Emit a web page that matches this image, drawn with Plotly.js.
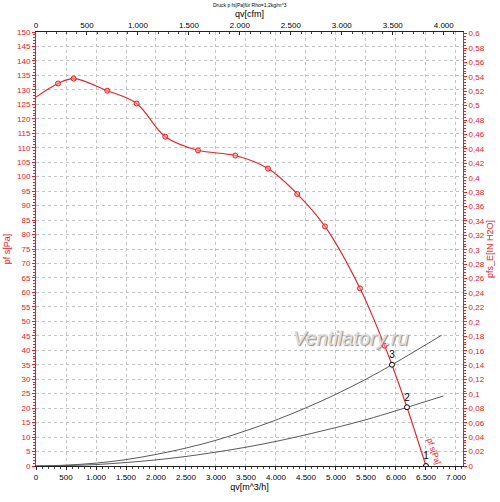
<!DOCTYPE html>
<html><head><meta charset="utf-8">
<script src="https://cdn.plot.ly/plotly-3.0.1.min.js"></script>
<style>html,body{margin:0;padding:0;background:#fff}#chart{width:500px;height:502px}</style>
</head><body><div id="chart"></div>
<script>
// Fan curve (qv in m^3/h, static pressure in Pa)
const fanQ = [0, 367, 627, 1188, 1677, 2155, 2700, 3322, 3867, 4355, 4817, 5400, 5810, 5933, 6183, 6500];
const fanP = [127.5, 132.2, 133.9, 129.7, 125.3, 113.8, 109.1, 107.3, 102.8, 94.0, 82.8, 61.4, 41.6, 35.0, 20.3, 0];
// measured points (red markers)
const markQ = [367, 627, 1188, 1677, 2155, 2700, 3322, 3867, 4355, 4817, 5400, 5810];
const markP = [132.2, 133.9, 129.7, 125.3, 113.8, 109.1, 107.3, 102.8, 94.0, 82.8, 61.4, 41.6];
// system curves
const sys3Q = [0, 500, 1000, 1500, 2000, 2500, 3000, 3500, 4000, 4500, 5000, 5500, 6000, 6760];
const sys3P = [0, 0.3, 1.0, 2.2, 4.0, 6.2, 8.9, 12.2, 15.9, 20.1, 24.8, 30.0, 35.8, 45.2];
const sys2Q = [0, 500, 1000, 1500, 2000, 2500, 3000, 3500, 4000, 4500, 5000, 5500, 6000, 6790];
const sys2P = [0, 0.15, 0.5, 1.2, 2.1, 3.3, 4.8, 6.5, 8.5, 10.8, 13.3, 16.0, 19.1, 24.2];
// operating points
const opQ = [6500, 6183, 5933];
const opP = [0, 20.3, 35.0];
const opLabels = ['1', '2', '3'];
// axis constants
const xMax = 7117;
const pMax = 150;
const M3H_PER_CFM = 1.699;
const PA_PER_INH2O = 249.089;
const xLabel = 'qv[m^3/h]';
const x2Label = 'qv[cfm]';
const yLabel = 'pf s[Pa]';
const y2Label = 'pfs_E[IN H2O]';
const chartTitle = 'Druck p fs[Pa]für Rho=1,2kg/m^3';
const curveLabel = 'pf s[Pa]';
const watermark = 'Ventilatory.ru';

const RED = 'rgb(228,32,36)';
const traces = [
  {x: sys3Q, y: sys3P, mode: 'lines', line: {color: '#5a5a5a', width: 1, shape: 'spline'}, hoverinfo: 'skip'},
  {x: sys2Q, y: sys2P, mode: 'lines', line: {color: '#5a5a5a', width: 1, shape: 'spline'}, hoverinfo: 'skip'},
  {x: fanQ, y: fanP, mode: 'lines', line: {color: RED, width: 1.1, shape: 'spline', smoothing: 1}},
  {x: markQ, y: markP, mode: 'markers', marker: {symbol: 'circle', size: 5, color: 'rgba(245,150,150,0.6)', line: {color: RED, width: 1}}},
  {x: opQ, y: opP, mode: 'markers+text', text: opLabels, textposition: 'top center',
   textfont: {size: 10, color: '#000'},
   marker: {symbol: 'circle', size: 5, color: '#fff', line: {color: '#000', width: 1}}},
  {x: [0, xMax / M3H_PER_CFM], y: [0, pMax / PA_PER_INH2O], xaxis: 'x2', yaxis: 'y2', mode: 'markers',
   marker: {opacity: 0}, hoverinfo: 'skip'}
];

const layout = {
  width: 500, height: 502,
  margin: {l: 36, r: 37, t: 32, b: 36, pad: 0},
  paper_bgcolor: '#fff', plot_bgcolor: '#fff',
  separators: ',.',
  showlegend: false,
  font: {family: 'Liberation Sans, Arial, sans-serif', size: 8, color: '#000'},
  xaxis: {
    range: [0, xMax], tick0: 0, dtick: 500, separatethousands: true,
    showline: true, linecolor: '#222', linewidth: 1, zeroline: false,
    ticks: 'outside', ticklen: 3, tickcolor: '#222',
    minor: {dtick: 100, ticks: 'outside', ticklen: 2, tickcolor: '#444', showgrid: false},
    showgrid: true, gridcolor: '#c4c4c4', griddash: 'dot', gridwidth: 1,
    tickfont: {size: 8, color: '#000'},
    title: {text: xLabel, font: {size: 9, color: '#000'}, standoff: 1}
  },
  xaxis2: {
    overlaying: 'x', side: 'top', anchor: 'y2',
    range: [0, xMax / M3H_PER_CFM], tick0: 0, dtick: 500, separatethousands: true,
    showline: true, linecolor: '#222', linewidth: 1, zeroline: false,
    ticks: 'inside', ticklen: 3, tickcolor: '#222',
    minor: {dtick: 100, ticks: 'inside', ticklen: 2, tickcolor: '#444', showgrid: false},
    showgrid: false,
    tickfont: {size: 8, color: '#000'},
    title: {text: x2Label, font: {size: 9, color: '#000'}, standoff: 1}
  },
  yaxis: {
    range: [0, pMax], tick0: 0, dtick: 5,
    showline: true, linecolor: RED, linewidth: 1, zeroline: false,
    ticks: 'outside', ticklen: 3, tickcolor: RED,
    minor: {dtick: 1, ticks: 'outside', ticklen: 2, tickcolor: RED, showgrid: false},
    showgrid: true, gridcolor: '#c4c4c4', griddash: 'dot', gridwidth: 1,
    tickfont: {size: 8, color: RED},
    title: {text: yLabel, font: {size: 9, color: RED}, standoff: 4}
  },
  yaxis2: {
    overlaying: 'y', side: 'right', anchor: 'x',
    range: [0, pMax / PA_PER_INH2O], tick0: 0, dtick: 0.02,
    showline: true, linecolor: RED, linewidth: 1, zeroline: false,
    ticks: 'outside', ticklen: 3, tickcolor: RED,
    minor: {dtick: 0.004, ticks: 'outside', ticklen: 2, tickcolor: RED, showgrid: false},
    showgrid: false,
    tickfont: {size: 8, color: RED},
    title: {text: y2Label, font: {size: 9, color: RED}, standoff: 0}
  },
  annotations: [
    {text: chartTitle, xref: 'paper', yref: 'paper', x: 0.5, y: 1.062, xanchor: 'center', yanchor: 'middle',
     showarrow: false, font: {size: 5, color: '#000'}},
    {text: '<i>' + watermark + '</i>', xref: 'x', yref: 'y', x: 5250, y: 44.2, showarrow: false,
     font: {size: 20, color: '#dcdcdc', shadow: '1px 1px 1px #8a8a8a'}},
    {text: curveLabel, xref: 'x', yref: 'y', x: 6630, y: 5.0, showarrow: false, textangle: 71,
     font: {size: 8, color: RED}}
  ]
};

Plotly.newPlot('chart', traces, layout, {displayModeBar: false, staticPlot: true});
</script>
</body></html>
